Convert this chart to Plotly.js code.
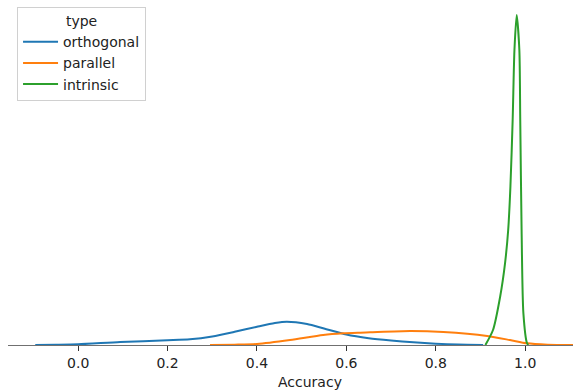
<!DOCTYPE html>
<html>
<head>
<meta charset="utf-8">
<script src="https://cdn.plot.ly/plotly-3.0.1.min.js"></script>
<style>
  html, body { margin: 0; padding: 0; background: #fff; }
  #chart { width: 573px; height: 390px; }
</style>
</head>
<body>
<div id="chart"></div>
<script>
// Kernel density estimates of accuracy, one curve per probe type
const orthogonalX = [-0.096, -0.05, 0.0, 0.094, 0.2, 0.25, 0.3, 0.35, 0.4, 0.44, 0.467, 0.512, 0.55, 0.6, 0.65, 0.7, 0.75, 0.8, 0.85, 0.906];
const orthogonalY = [0, 0.02, 0.06, 0.27, 0.43, 0.52, 0.78, 1.2, 1.66, 2.0, 2.12, 1.91, 1.5, 0.95, 0.62, 0.41, 0.25, 0.12, 0.04, 0.0];

const parallelX = [0.295, 0.35, 0.40, 0.474, 0.548, 0.593, 0.631, 0.653, 0.743, 0.817, 0.915, 0.966, 1.004, 1.05, 1.107];
const parallelY = [0, 0.03, 0.09, 0.45, 0.91, 1.06, 1.12, 1.15, 1.27, 1.18, 0.82, 0.45, 0.15, 0.03, 0];

const intrinsicX = [0.911, 0.928, 0.944, 0.955, 0.962, 0.967, 0.972, 0.976, 0.981, 0.987, 0.989, 0.992, 0.996, 1.004, 1.007];
const intrinsicY = [0, 1.36, 4.39, 7.45, 10.45, 14.4, 20.45, 26.8, 30.0, 26.8, 20.45, 10.45, 2.9, 0.18, 0];

const typeNames = ['orthogonal', 'parallel', 'intrinsic'];
const typeColors = ['#1f77b4', '#ff7f0e', '#2ca02c'];
const xTicks = [0.0, 0.2, 0.4, 0.6, 0.8, 1.0];
const xTickText = ['0.0', '0.2', '0.4', '0.6', '0.8', '1.0'];

const series = [[orthogonalX, orthogonalY], [parallelX, parallelY], [intrinsicX, intrinsicY]];
const traces = series.map(([xs, ys], i) => ({
  type: 'scatter',
  mode: 'lines',
  x: xs,
  y: ys,
  name: typeNames[i],
  line: { color: typeColors[i], width: 2, shape: 'spline', smoothing: 0.7 }
}));

const font = { family: 'DejaVu Sans, sans-serif', size: 14, color: '#222' };

const layout = {
  width: 573,
  height: 390,
  margin: { l: 8, r: 0, t: 0, b: 45 },
  paper_bgcolor: '#fff',
  plot_bgcolor: '#fff',
  font: font,
  showlegend: true,
  legend: {
    x: 0.016, y: 0.98, xanchor: 'left', yanchor: 'top',
    bgcolor: 'rgba(255,255,255,0.8)',
    bordercolor: '#d0d0d0', borderwidth: 1,
    font: font,
    itemwidth: 35,
    title: { text: 'type', side: 'top center', font: font },
    tracegroupgap: 0
  },
  xaxis: {
    range: [-0.157, 1.107],
    tickvals: xTicks,
    ticktext: xTickText,
    ticks: 'outside', ticklen: 5, tickwidth: 1, tickcolor: '#333',
    showline: true, linecolor: '#707070', linewidth: 1.2,
    showgrid: false, zeroline: false,
    layer: 'below traces',
    tickfont: font
  },
  yaxis: {
    range: [0, 31.36],
    visible: false,
    showgrid: false, zeroline: false
  },
  annotations: [{
    text: 'Accuracy',
    xref: 'x', yref: 'paper',
    x: 0.519, y: 0,
    yshift: -37,
    showarrow: false,
    xanchor: 'center', yanchor: 'middle',
    font: font
  }]
};

Plotly.newPlot('chart', traces, layout, { displayModeBar: false, staticPlot: true });
</script>
</body>
</html>
